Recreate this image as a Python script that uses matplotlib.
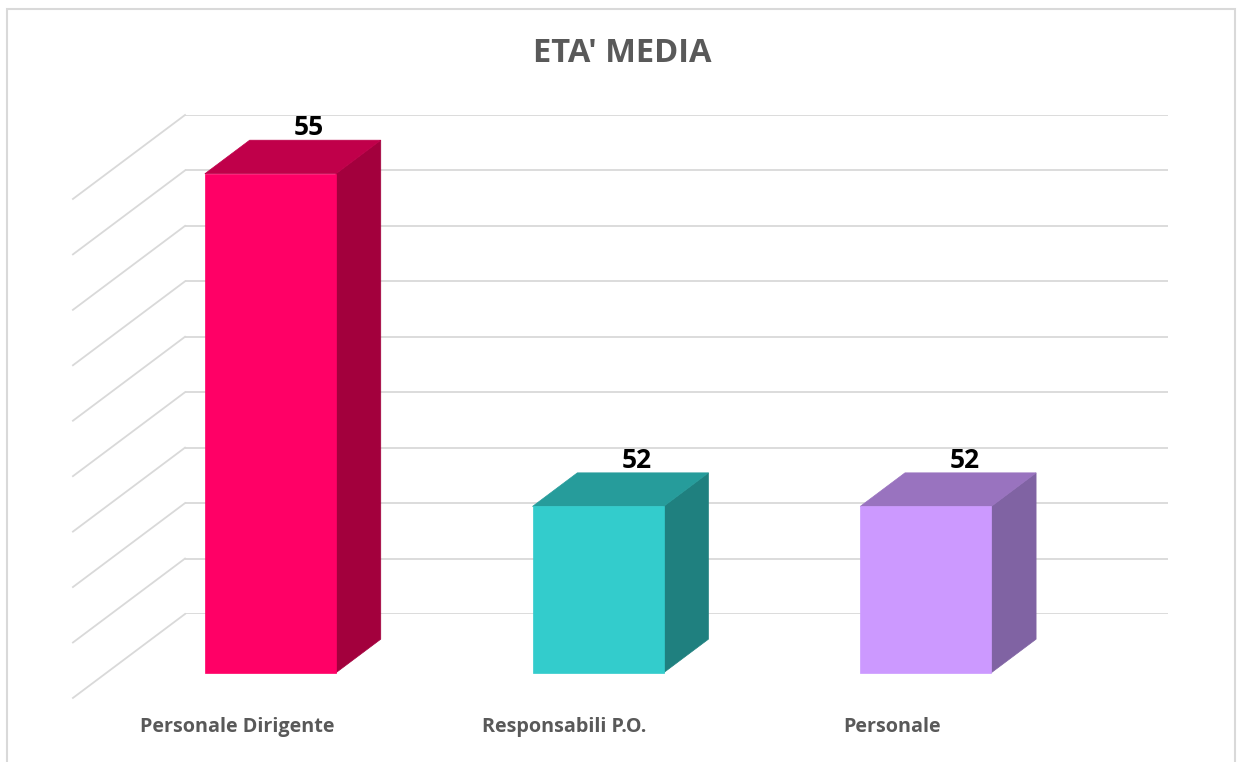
import numpy as np
import matplotlib
matplotlib.use("Agg")
import matplotlib.pyplot as plt
from matplotlib.patches import Polygon, Rectangle

# chart data
categories = ["Personale Dirigente", "Responsabili P.O.", "Personale"]
values = [55, 52, 52]
value_labels = ["55", "52", "52"]

# axis settings
y_min, y_max, y_step = 50.5, 55.0, 0.5

front_colors = ["#FF0066", "#33CCCC", "#CC99FF"]
top_colors = ["#C0004A", "#269C9B", "#9973BF"]
side_colors = ["#A3003D", "#1F807F", "#8063A3"]

# 3D look: depth offset of the floor (category units, value units)
DEPTH_X = 0.342
DEPTH_Y = 0.757
BAR_HALF = 0.2
BAR_BACK, BAR_FRONT = 0.3, 0.7
GRID_COLOR = "#D9D9D9"
TEXT_GRAY = "#595959"

plt.rcParams["font.family"] = ["Open Sans", "DejaVu Sans"]


def proj(x, v, d):
    # d = 0 on the back wall, d = 1 at the front edge of the floor
    return (x - d * DEPTH_X, v - d * DEPTH_Y)


def main() -> None:
    fig = plt.figure(figsize=(12.4, 7.62), dpi=100)
    ax = fig.add_axes([185 / 1240, 148 / 762, 983 / 1240, 499 / 762])
    ax.set_xlim(0, len(categories))
    ax.set_ylim(y_min, y_max)
    ax.axis("off")

    # back wall gridlines + side wall diagonals
    for v in np.arange(y_min, y_max + 1e-9, y_step):
        ax.plot([0, len(categories)], [v, v], color=GRID_COLOR, lw=1.3,
                zorder=1, solid_capstyle="butt")
        x0, y0 = proj(0, v, 0)
        x1, y1 = proj(0, v, 1)
        ax.plot([x0, x1], [y0, y1], color=GRID_COLOR, lw=1.3, zorder=1,
                clip_on=False)

    for i, (val, lab) in enumerate(zip(values, value_labels)):
        c = i + 0.5
        l, r = c - BAR_HALF, c + BAR_HALF
        front = [proj(l, y_min, BAR_FRONT), proj(r, y_min, BAR_FRONT),
                 proj(r, val, BAR_FRONT), proj(l, val, BAR_FRONT)]
        top = [proj(l, val, BAR_FRONT), proj(r, val, BAR_FRONT),
               proj(r, val, BAR_BACK), proj(l, val, BAR_BACK)]
        side = [proj(r, y_min, BAR_FRONT), proj(r, y_min, BAR_BACK),
                proj(r, val, BAR_BACK), proj(r, val, BAR_FRONT)]
        for pts, col in ((side, side_colors[i]), (top, top_colors[i]),
                         (front, front_colors[i])):
            ax.add_patch(Polygon(pts, closed=True, facecolor=col,
                                 edgecolor=col, lw=0.5, zorder=3,
                                 clip_on=False))

        # value label above the back edge of the top face
        ax.annotate(lab, xy=proj(c, val, BAR_BACK), xytext=(-6, 5),
                    textcoords="offset pixels", ha="center", va="baseline",
                    fontsize=19, fontweight="bold", color="black",
                    annotation_clip=False, zorder=5)

        # category label under the front edge of the floor
        ax.annotate(categories[i], xy=proj(c, y_min, 1), xytext=(0, -29),
                    textcoords="offset pixels", ha="center", va="center",
                    fontsize=14.2, fontweight="bold", color=TEXT_GRAY,
                    annotation_clip=False)

    fig.text(622 / 1240, 1 - 54 / 762, "ETA' MEDIA", ha="center",
             va="center", fontsize=23.5, fontweight="bold", color=TEXT_GRAY)

    # chart area border
    fig.add_artist(Rectangle((7 / 1240, -0.05), 1228 / 1240, 1.05 - 9 / 762,
                             transform=fig.transFigure, fill=False,
                             edgecolor=GRID_COLOR, lw=1.5))

    fig.savefig("out.png", dpi=100)


if __name__ == "__main__":
    main()
